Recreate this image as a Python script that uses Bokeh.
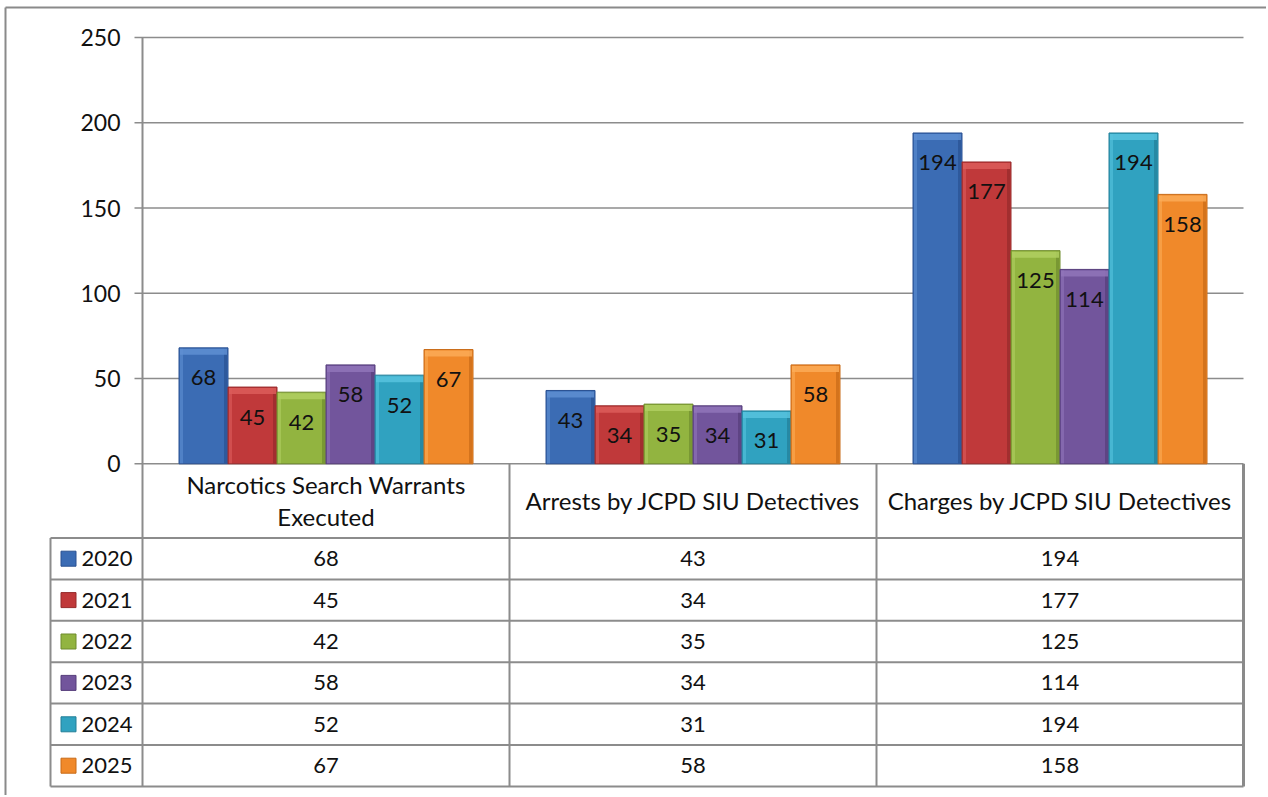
from bokeh.plotting import figure
from bokeh.models import Range1d
from bokeh.embed import file_html
from bokeh.resources import INLINE
from bokeh.core.properties import value

# ---------------- data ----------------
categories = ["Narcotics Search Warrants\nExecuted",
              "Arrests by JCPD SIU Detectives",
              "Charges by JCPD SIU Detectives"]
years = ["2020", "2021", "2022", "2023", "2024", "2025"]
v2020 = [68, 43, 194]
v2021 = [45, 34, 177]
v2022 = [42, 35, 125]
v2023 = [58, 34, 114]
v2024 = [52, 31, 194]
v2025 = [67, 58, 158]
series = [v2020, v2021, v2022, v2023, v2024, v2025]
y_ticks = [0, 50, 100, 150, 200, 250]

colors = ["#3b6cb4", "#c0393a", "#92b440", "#72559c", "#30a2c0", "#f0892a"]
light = ["#5f8fd2", "#dc5d5b", "#b0cf62", "#9175ba", "#57c3de", "#fbab57"]
dark = ["#2a5192", "#962a2b", "#6f8b2d", "#553d7a", "#227f98", "#c86a17"]

# ---------------- layout constants ----------------
W, H = 1266, 795
X0, Y0 = 142.0, 463.3          # screen position of (0, 0)
PX_X = 367.0                   # px per category
PX_Y = 426.3 / 250.0           # px per value unit
def sx(px): return (px - X0) / PX_X     # screen x -> data x
def sy(px): return (Y0 - px) / PX_Y     # screen y -> data y
def dx(px): return px / PX_X
def dy(px): return px / PX_Y

FONT = value("Lato")
FS = "22px"
GRID = "#8c8c8c"

p = figure(width=W, height=H, output_backend="svg", toolbar_location=None,
           x_range=Range1d(sx(0), sx(W)), y_range=Range1d(sy(H), sy(0)),
           min_border=0, x_axis_type=None, y_axis_type=None)
p.grid.visible = False
p.outline_line_color = None
p.background_fill_color = "white"

n_cat = len(categories)
x_left_tab = sx(50)
header_h = dy(74.2)
row_h = dy(41.4)
table_bottom = -header_h - row_h * len(years)

# outer chart border (left and top)
p.segment(x0=[sx(5), sx(5)], y0=[sy(7), sy(7)],
          x1=[sx(5), sx(W)], y1=[sy(H), sy(7)],
          line_color="#8a8a8a", line_width=2)

# gridlines and tick marks
p.segment(x0=[-dx(8)] * len(y_ticks), y0=y_ticks,
          x1=[n_cat] * len(y_ticks), y1=y_ticks,
          line_color=GRID, line_width=1.6)
p.text(x=[-dx(22)] * len(y_ticks), y=y_ticks, text=[str(t) for t in y_ticks],
       text_align="right", text_baseline="middle", text_font=FONT,
       text_font_size="23px", text_color="#111111")

# value axis line (continues as table border)
p.segment(x0=[0], y0=[y_ticks[-1]], x1=[0], y1=[table_bottom],
          line_color=GRID, line_width=2)

# table lines
row_ys = [-header_h - row_h * i for i in range(len(years) + 1)]
p.segment(x0=[x_left_tab] * len(row_ys), y0=row_ys,
          x1=[n_cat] * len(row_ys), y1=row_ys,
          line_color=GRID, line_width=2)
p.segment(x0=[x_left_tab], y0=[-header_h], x1=[x_left_tab], y1=[table_bottom],
          line_color=GRID, line_width=2)
p.segment(x0=list(range(1, n_cat)), y0=[0] * (n_cat - 1),
          x1=list(range(1, n_cat)), y1=[table_bottom] * (n_cat - 1),
          line_color=GRID, line_width=2)
p.segment(x0=[n_cat], y0=[0], x1=[n_cat], y1=[table_bottom],
          line_color="#8a8a8a", line_width=3)

# bars
gap = dx(36.5)
bw = (1 - 2 * gap) / len(years)
edge = dx(4)
bev = dy(7)
for i, vals in enumerate(series):
    xs = [c + gap + bw * (i + 0.5) for c in range(n_cat)]
    lefts = [x - bw / 2 for x in xs]
    rights = [x + bw / 2 for x in xs]
    p.quad(left=lefts, right=rights, bottom=[0] * n_cat, top=vals,
           fill_color=colors[i], line_color=dark[i], line_width=1)
    p.quad(left=[l + dx(1) for l in lefts], right=[l + edge for l in lefts],
           bottom=[0.3] * n_cat, top=[v - dy(1) for v in vals],
           fill_color=light[i], fill_alpha=0.6, line_color=None)
    p.quad(left=[r - edge for r in rights], right=[r - dx(1) for r in rights],
           bottom=[0.3] * n_cat, top=[v - dy(1) for v in vals],
           fill_color=dark[i], fill_alpha=0.7, line_color=None)
    p.quad(left=[l + dx(1) for l in lefts], right=[r - dx(1) for r in rights],
           bottom=[v - bev for v in vals], top=[v - dy(1) for v in vals],
           fill_color=light[i], fill_alpha=0.85, line_color=None)
    p.text(x=xs, y=vals, text=[str(v) for v in vals], y_offset=30,
           text_align="center", text_baseline="middle", text_font=FONT,
           text_font_size=FS, text_color="#111111")

    # table row
    ry = -header_h - row_h * (i + 0.5)
    p.scatter(x=[sx(68)], y=[ry], marker="square", size=15,
              fill_color=colors[i], line_color=dark[i], line_width=1)
    p.text(x=[sx(81)], y=[ry], text=[years[i]], text_align="left",
           text_baseline="middle", text_font=FONT, text_font_size=FS,
           text_color="#111111")
    p.text(x=[c + 0.5 for c in range(n_cat)], y=[ry] * n_cat,
           text=[str(v) for v in vals], text_align="center",
           text_baseline="middle", text_font=FONT, text_font_size=FS,
           text_color="#111111")

# category header
p.text(x=[c + 0.5 for c in range(n_cat)], y=[-header_h / 2] * n_cat,
       text=categories, text_align="center", text_baseline="middle",
       text_font=FONT, text_font_size="24px", text_line_height=1.1,
       text_color="#111111")

open("out.html", "w").write(file_html(p, INLINE))
